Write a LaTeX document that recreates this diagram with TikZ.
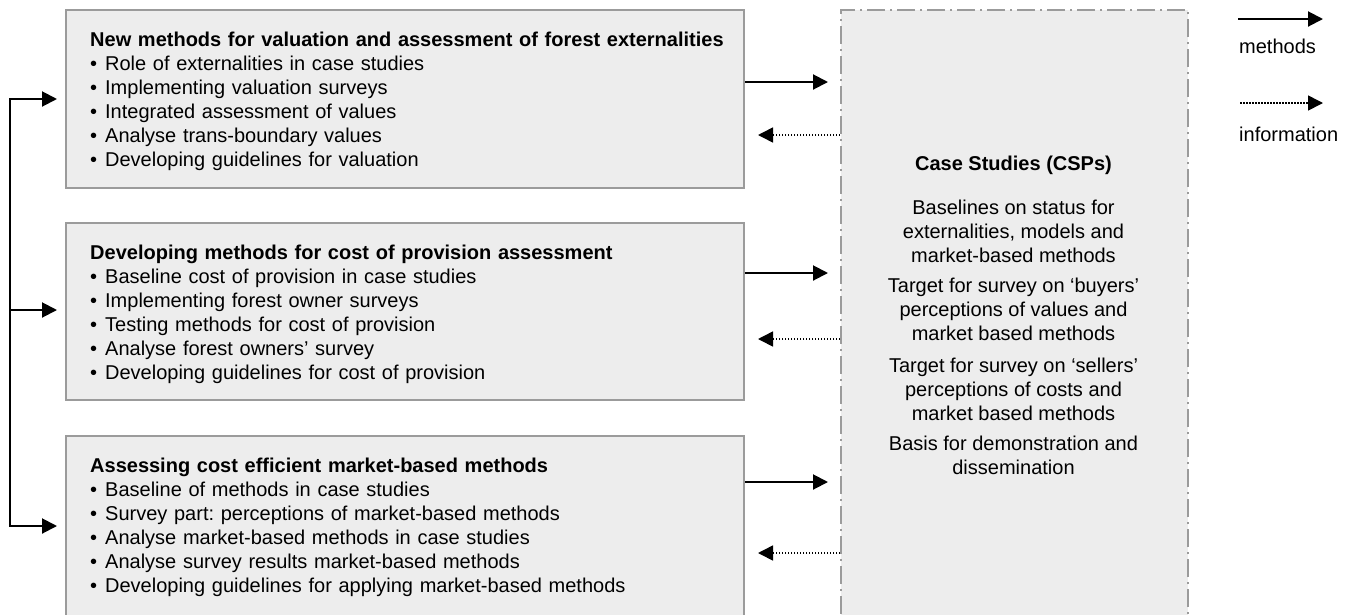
\documentclass[tikz,border=0pt]{standalone}
\usepackage{fontspec}
\setmainfont{Liberation Sans}
\usetikzlibrary{arrows.meta,calc}
\definecolor{boxfill}{HTML}{EDEDED}
\definecolor{boxline}{HTML}{9B9B9B}
\newcommand\bul{\makebox[15pt][l]{•}}
\frenchspacing
\begin{document}
\begin{tikzpicture}[x=1pt,y=-1pt,
  font=\fontsize{20}{24}\selectfont,
  taskbox/.style={draw=boxline,line width=2pt,fill=boxfill,rectangle,inner sep=0pt,minimum width=678pt,anchor=north west},
  csbox/.style={draw=boxline,line width=2pt,fill=boxfill,rectangle,inner sep=0pt,minimum width=347pt,minimum height=640pt,anchor=north west,dash pattern=on 18pt off 5pt on 2pt off 5pt},
  tasktext/.style={anchor=north west,inner sep=0pt,align=left,text width=640pt},
  cstext/.style={anchor=north,inner sep=0pt,align=center},
  legtext/.style={anchor=base west,inner sep=0pt},
  marrow/.style={line width=2pt,-{Triangle[length=15pt,width=15pt]}},
  iarrow/.style={line width=1.6pt,dash pattern=on 1.5pt off 1.5pt,-{Triangle[length=15pt,width=15pt]}},
]
\useasboundingbox (0,0) rectangle (1352,614);
\clip (0,0) rectangle (1352,614);

% boxes
\node[taskbox,minimum height=178pt] (b1) at (65,9) {};
\node[taskbox,minimum height=177pt] (b2) at (65,222) {};
\node[taskbox,minimum height=220pt] (b3) at (65,435) {};
\node[csbox] (cs) at (840,9) {};

% box texts
\node[tasktext] (t1) at (90,29.2) {\strut\textbf{New methods for valuation and assessment of forest externalities}\\
\bul Role of externalities in case studies\\
\bul Implementing valuation surveys\\
\bul Integrated assessment of values\\
\bul Analyse trans-boundary values\\
\bul Developing guidelines for valuation};
\node[tasktext] (t2) at (90,242.2) {\strut\textbf{Developing methods for cost of provision assessment}\\
\bul Baseline cost of provision in case studies\\
\bul Implementing forest owner surveys\\
\bul Testing methods for cost of provision\\
\bul Analyse forest owners’ survey\\
\bul Developing guidelines for cost of provision};
\node[tasktext] (t3) at (90,455.2) {\strut\textbf{Assessing cost efficient market-based methods}\\
\bul Baseline of methods in case studies\\
\bul Survey part: perceptions of market-based methods\\
\bul Analyse market-based methods in case studies\\
\bul Analyse survey results market-based methods\\
\bul Developing guidelines for applying market-based methods};

\node[cstext] (cst) at (1013.5,153.2) {\strut\textbf{Case Studies (CSPs)}\\[20pt]
Baselines on status for\\ externalities, models and\\ market-based methods\\[6pt]
Target for survey on ‘buyers’\\ perceptions of values and\\ market based methods\\[8pt]
Target for survey on ‘sellers’\\ perceptions of costs and\\ market based methods\\[6pt]
Basis for demonstration and\\ dissemination};

% arrows between boxes and case studies
\coordinate (a1) at ($(b1.north east)+(0,73)$);
\coordinate (d1) at ($(b1.north east)+(0,126)$);
\coordinate (a2) at ($(b2.north east)+(0,51)$);
\coordinate (d2) at ($(b2.north east)+(0,117)$);
\coordinate (a3) at ($(b3.north east)+(0,47)$);
\coordinate (d3) at ($(b3.north east)+(0,118)$);
\draw[marrow,shorten >=12pt] (a1) -- (a1 -| cs.west);
\draw[iarrow,shorten >=13pt] (d1 -| cs.west) -- (d1);
\draw[marrow,shorten >=12pt] (a2) -- (a2 -| cs.west);
\draw[iarrow,shorten >=13pt] (d2 -| cs.west) -- (d2);
\draw[marrow,shorten >=12pt] (a3) -- (a3 -| cs.west);
\draw[iarrow,shorten >=13pt] (d3 -| cs.west) -- (d3);

% left feedback connector
\coordinate (lt) at (10,99);
\coordinate (lm) at (10,310);
\coordinate (lb) at (10,526);
\draw[line width=2pt,{Triangle[length=15pt,width=15pt]}-{Triangle[length=15pt,width=15pt]},shorten <=8pt,shorten >=8pt]
  (lt -| b1.west) -- (lt) -- (lb) -- (lb -| b3.west);
\draw[marrow,shorten >=8pt] (lm) -- (lm -| b2.west);

% legend
\coordinate (ms) at (1238,19);
\coordinate (me) at (1323,19);
\coordinate (is) at (1240,103);
\coordinate (ie) at (1323,103);
\draw[marrow] (ms) -- (me);
\draw[iarrow] (is) -- (ie);
\node[legtext] (ml) at (1239,53) {methods};
\node[legtext] (il) at (1239,141) {information};
\end{tikzpicture}
\end{document}
